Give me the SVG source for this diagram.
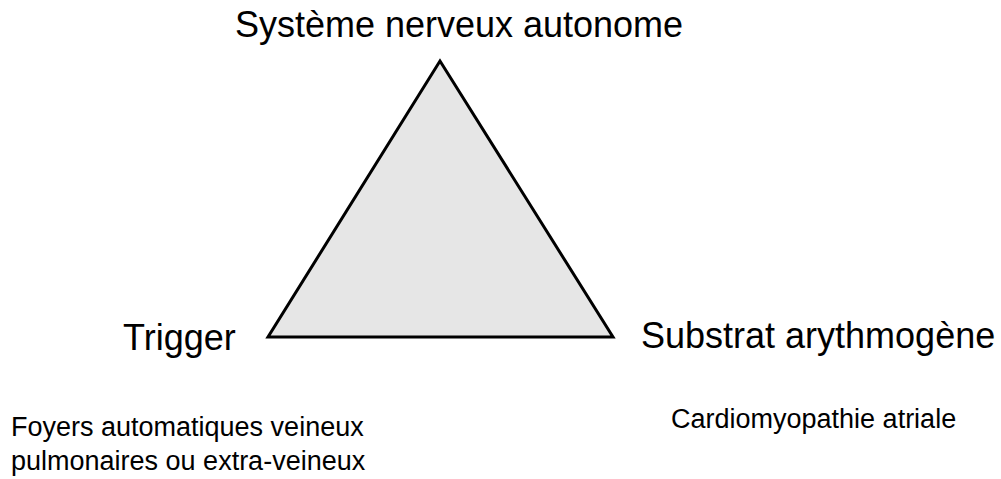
<svg xmlns="http://www.w3.org/2000/svg" width="1001" height="479" viewBox="0 0 1001 479">
<style>
text{font-family:"Liberation Sans",Arial,sans-serif;fill:#000}
.big{font-size:36px}
.small{font-size:27px}
</style>
<rect width="1001" height="479" fill="#fff"/>
<g id="triangle"><polygon points="440,61 268,337 613,337" fill="#e6e6e6" stroke="#000" stroke-width="3" stroke-linejoin="miter"/></g>
<g id="connectors"/>
<g id="node-top"><text class="big" x="459" y="37" text-anchor="middle">Système nerveux autonome</text></g>
<g id="node-left"><text class="big" x="123" y="350">Trigger</text></g>
<g id="node-right"><text class="big" x="641" y="348">Substrat arythmogène</text></g>
<g id="desc-left"><text class="small" x="11" y="436">Foyers automatiques veineux</text><text class="small" x="11" y="470">pulmonaires ou extra-veineux</text></g>
<g id="desc-right"><text class="small" x="671" y="428">Cardiomyopathie atriale</text></g>
</svg>
